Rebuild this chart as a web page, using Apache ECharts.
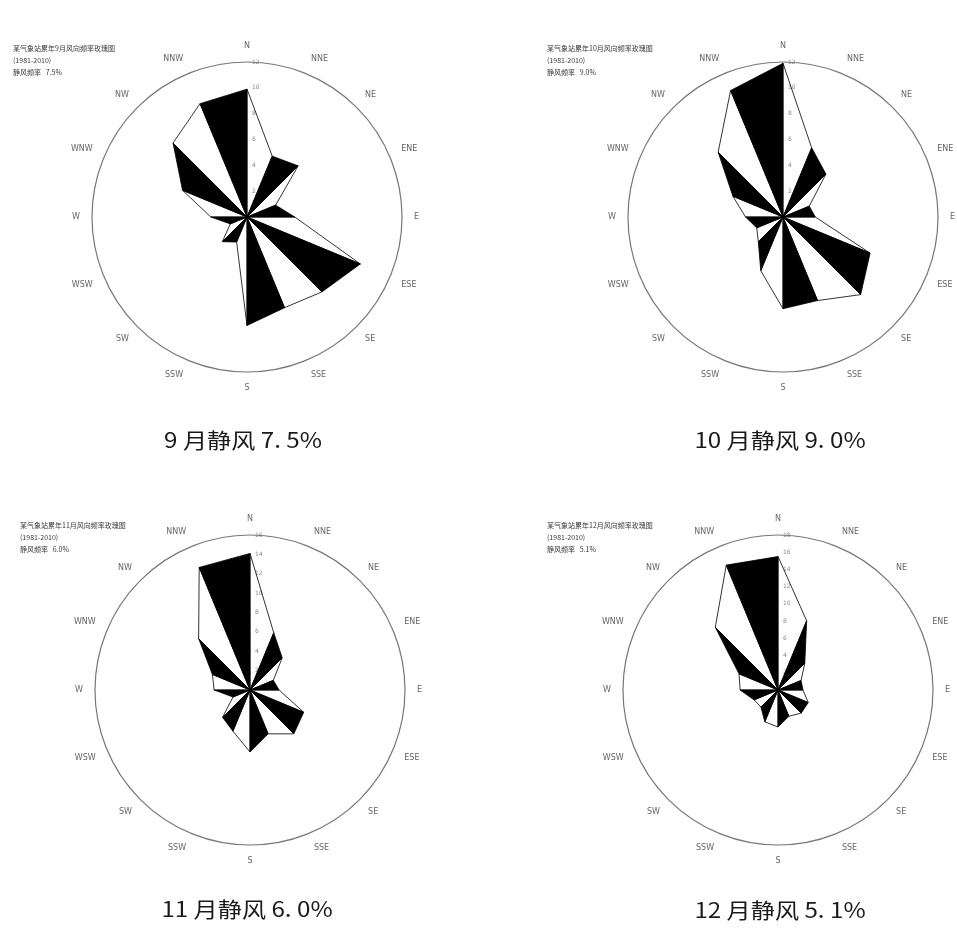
<!DOCTYPE html>
<html>
<head>
<meta charset="utf-8">
<script src="https://cdn.jsdelivr.net/npm/echarts@6/dist/echarts.min.js"></script>
<style>
  html, body { margin: 0; padding: 0; background: #fff; }
  #chart { width: 957px; height: 930px; }
</style>
</head>
<body>
<div id="chart"></div>
<script>
// 16 compass points, clockwise from north
const directions = ['N', 'NNE', 'NE', 'ENE', 'E', 'ESE', 'SE', 'SSE',
                    'S', 'SSW', 'SW', 'WSW', 'W', 'WNW', 'NW', 'NNW'];

// wind direction frequency (%) per month, same order as directions
const sepFreq = [9.9, 5.1, 5.6, 2.4, 3.7, 9.5, 8.2, 7.6, 8.4, 2.1, 2.7, 1.4, 2.8, 5.4, 8.1, 9.5];
const octFreq = [11.9, 5.8, 4.7, 2.2, 2.5, 7.3, 8.5, 7.0, 7.1, 4.5, 2.7, 2.2, 2.9, 4.2, 7.1, 10.6];
const novFreq = [14.1, 6.4, 4.7, 2.6, 3.0, 6.0, 6.4, 4.9, 6.4, 4.6, 4.0, 1.9, 3.7, 4.2, 7.5, 13.7];
const decFreq = [15.5, 8.7, 4.4, 2.9, 2.9, 3.8, 3.8, 3.3, 4.3, 4.0, 2.8, 3.0, 4.4, 4.9, 10.3, 15.7];

const months = ['9', '10', '11', '12'];
const calmRates = ['7. 5', '9. 0', '6. 0', '5. 1'];
const calmNotes = ['7.5', '9.0', '6.0', '5.1'];
// outer ring value (%) of each rose and ring label step
const ringMax = [12, 12, 16, 18];
const ringStep = 2;

const freqByMonth = [sepFreq, octFreq, novFreq, decFreq];

// panel layout
const centers = [[247, 217], [783, 217], [250, 690], [778, 690]];
const ringRadius = 155;
const captionPos = [[243, 440], [780, 440], [247, 909], [780, 910]];
const notePos = [[13, 42], [547, 42], [20, 519], [547, 519]];

const chart = echarts.init(document.getElementById('chart'), null, { renderer: 'canvas' });

const polar = [], angleAxis = [], radiusAxis = [], series = [], graphic = [];

// each direction draws the triangle centre -> its own tip -> the previous tip;
// even directions (N, NE, E, ...) are filled black, odd ones stay open
function roseRenderer(freq) {
  return function (params, api) {
    const i = params.dataIndex;
    const j = (i + freq.length - 1) % freq.length;
    const step = 360 / freq.length;
    const c = api.coord([0, 0]);
    const p = api.coord([api.value(0), i * step]);
    const q = api.coord([freq[j], j * step]);
    return {
      type: 'polygon',
      shape: { points: [c, p, q] },
      style: {
        fill: i % 2 === 0 ? '#000' : 'none',
        stroke: '#000',
        lineWidth: 0.8,
        lineJoin: 'round'
      }
    };
  };
}

freqByMonth.forEach(function (freq, k) {
  polar.push({ center: centers[k], radius: ringRadius });
  angleAxis.push({
    polarIndex: k,
    type: 'value',
    min: 0,
    max: 360,
    interval: 22.5,
    startAngle: 90,
    clockwise: true,
    axisLine: { show: true, lineStyle: { color: '#777', width: 1.2 } },
    axisTick: { show: false },
    splitLine: { show: false },
    axisLabel: {
      show: true,
      margin: 12,
      fontSize: 8,
      fontFamily: 'DejaVu Sans',
      color: '#666',
      formatter: function (v) {
        const idx = Math.round(v / 22.5);
        return idx < directions.length ? directions[idx] : '';
      }
    }
  });
  radiusAxis.push({
    polarIndex: k,
    type: 'value',
    min: 0,
    max: ringMax[k],
    interval: ringStep,
    axisLine: { show: false },
    axisTick: { show: false },
    splitLine: { show: false },
    axisLabel: {
      show: true,
      showMinLabel: false,
      margin: -5,
      align: 'left',
      fontSize: 6,
      fontFamily: 'DejaVu Sans',
      color: '#888'
    }
  });
  series.push({
    type: 'custom',
    coordinateSystem: 'polar',
    polarIndex: k,
    silent: true,
    encode: { radius: 0, angle: 1 },
    data: freq.map(function (v, i) { return [v, i * 22.5]; }),
    renderItem: roseRenderer(freq),
    z: 3
  });

  graphic.push({
    type: 'text',
    x: captionPos[k][0],
    y: captionPos[k][1],
    scaleX: 1.15,
    style: {
      text: months[k] + ' 月静风 ' + calmRates[k] + '%',
      align: 'center',
      verticalAlign: 'middle',
      fontSize: 21,
      fontFamily: 'Noto Sans CJK SC',
      fill: '#1a1a1a'
    }
  });
  graphic.push({
    type: 'text',
    x: notePos[k][0],
    y: notePos[k][1],
    style: {
      text: '某气象站累年' + months[k] + '月风向频率玫瑰图\n(1981-2010)\n静风频率   ' + calmNotes[k] + '%',
      align: 'left',
      verticalAlign: 'top',
      fontSize: 7,
      lineHeight: 12,
      fontFamily: 'Noto Sans CJK SC',
      fill: '#3a3a3a'
    }
  });
});

chart.setOption({
  backgroundColor: '#fff',
  animation: false,
  polar: polar,
  angleAxis: angleAxis,
  radiusAxis: radiusAxis,
  series: series,
  graphic: graphic
});
</script>
</body>
</html>
